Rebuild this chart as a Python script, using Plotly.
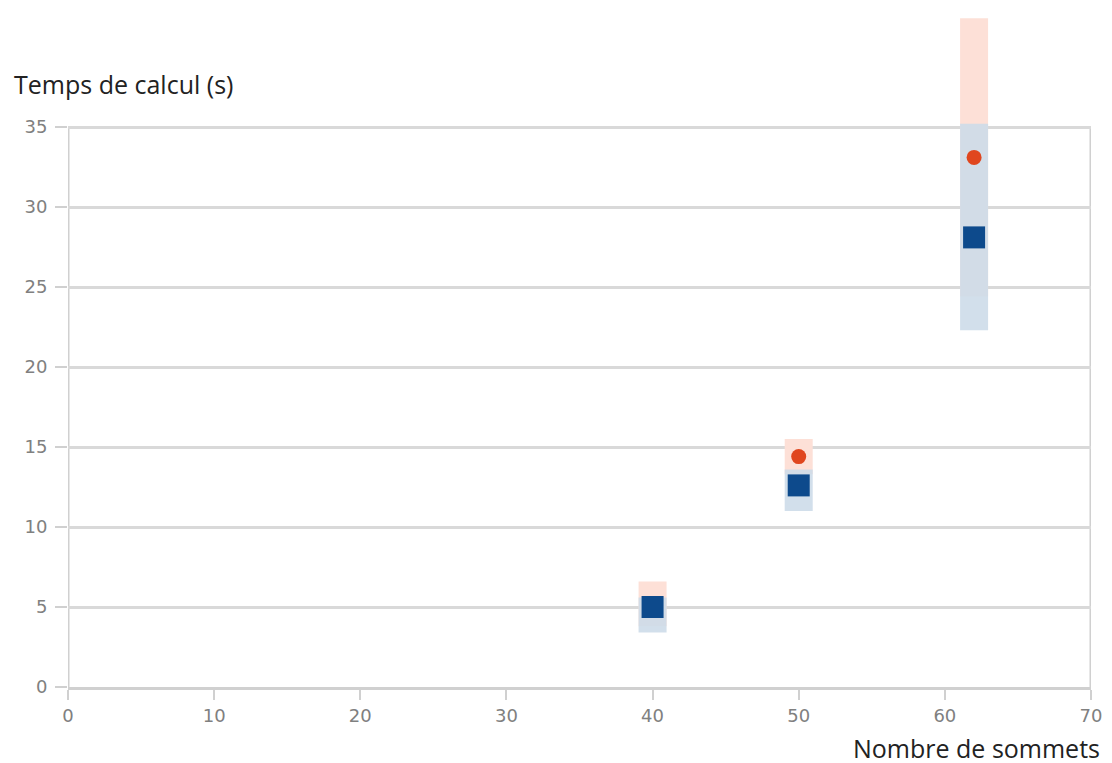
import plotly.graph_objects as go

# Data
nb_sommets = [40, 50, 62]
temps_bleu = [5.0, 12.6, 28.1]
err_bleu_plus = [0.6, 1.0, 7.1]
err_bleu_minus = [1.6, 1.6, 5.8]
temps_rouge = [5.2, 14.4, 33.1]
err_rouge = [1.4, 1.1, 8.7]

x_ticks = [0, 10, 20, 30, 40, 50, 60, 70]
y_ticks = [0, 5, 10, 15, 20, 25, 30, 35]

fig = go.Figure()

# error bands (drawn first)
fig.add_trace(go.Scatter(
    x=nb_sommets, y=temps_rouge, mode="markers",
    error_y=dict(type="data", array=err_rouge, visible=True,
                 color="#fde0d7", thickness=28, width=0),
    marker=dict(size=1, opacity=0), showlegend=False, hoverinfo="skip",
))
fig.add_trace(go.Scatter(
    x=nb_sommets, y=temps_bleu, mode="markers",
    error_y=dict(type="data", array=err_bleu_plus, arrayminus=err_bleu_minus,
                 symmetric=False, visible=True,
                 color="rgba(205,219,233,0.9)", thickness=28, width=0),
    marker=dict(size=1, opacity=0), showlegend=False, hoverinfo="skip",
))
# markers (red below blue)
fig.add_trace(go.Scatter(
    x=nb_sommets, y=temps_rouge, mode="markers",
    marker=dict(symbol="circle", size=15, color="#e0461e"),
    showlegend=False,
))
fig.add_trace(go.Scatter(
    x=nb_sommets, y=temps_bleu, mode="markers",
    marker=dict(symbol="square", size=22, color="#0d4a8c"),
    showlegend=False,
))

W, H = 1112, 763
L, R, T, B = 60, 29, 4, 84
pw = W - L - R
ph = H - T - B
ppu = 560 / 35.0
y_top = 35 + (119 - T) / ppu

fig.update_layout(
    width=W, height=H,
    margin=dict(l=L, r=R, t=T, b=B),
    paper_bgcolor="white", plot_bgcolor="white",
    font=dict(family="DejaVu Sans", color="#808080", size=18),
    xaxis=dict(range=[0, 70], tickvals=x_ticks, showgrid=False,
               showline=True, linecolor="#d0d0d0", linewidth=3,
               ticks="outside", ticklen=10, tickcolor="#d0d0d0", tickwidth=2,
               zeroline=False),
    yaxis=dict(range=[0, y_top], tickvals=y_ticks, showgrid=True,
               gridcolor="#d9d9d9", gridwidth=3, showline=False,
               ticks="outside", ticklen=12, tickcolor="#d0d0d0", tickwidth=2,
               ticklabelstandoff=4, zeroline=False),
)
# frame lines (left and right) limited to the 0..35 range
for xv in (x_ticks[0], x_ticks[-1]):
    fig.add_shape(type="line", xref="x", yref="y", x0=xv, x1=xv,
                  y0=y_ticks[0], y1=y_ticks[-1],
                  line=dict(color="#d0d0d0", width=3), layer="below")

# page offset of 8px (body margin)
fig.add_annotation(text="Temps de calcul (s)", xref="paper", yref="paper",
                   x=(4 - L) / pw, y=(H - B - 76) / ph,
                   xanchor="left", yanchor="middle", showarrow=False,
                   font=dict(family="Open Sans", size=25, color="#222222"))
fig.add_annotation(text="Nombre de sommets", xref="paper", yref="paper",
                   x=(1094 - L) / pw, y=(H - B - 740) / ph,
                   xanchor="right", yanchor="middle", showarrow=False,
                   font=dict(family="Open Sans", size=25, color="#222222"))

fig.write_html("out.html")
